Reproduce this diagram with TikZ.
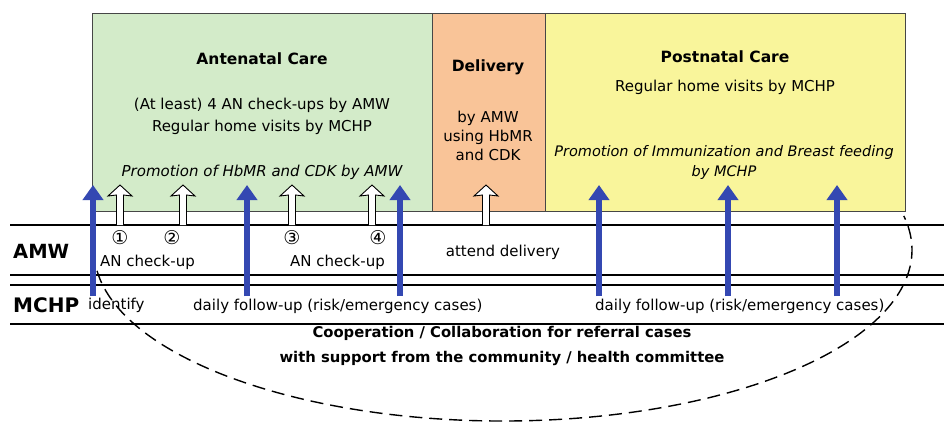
\documentclass[tikz,border=0pt]{standalone}
\usepackage{fontspec}
\setmainfont{DejaVu Sans}
\usetikzlibrary{arrows.meta}
\definecolor{ancgreen}{RGB}{211,235,201}
\definecolor{delorange}{RGB}{249,196,152}
\definecolor{pncyellow}{RGB}{249,245,155}
\definecolor{arrowblue}{RGB}{52,72,178}
\definecolor{boxline}{RGB}{70,70,70}
\tikzset{
  phasebox/.style={draw=boxline, line width=1.2pt, anchor=north west, inner sep=0pt, minimum height=198pt},
  txt/.style={inner sep=0pt, font=\fontsize{15}{18}\selectfont},
  ttl/.style={inner sep=0pt, font=\fontsize{15.5}{18}\selectfont\bfseries},
  itl/.style={inner sep=0pt, font=\fontsize{15}{18}\selectfont\itshape},
  lanelbl/.style={inner sep=0pt, anchor=west, font=\fontsize{19.5}{22}\selectfont\bfseries},
  circnum/.style={inner sep=0pt, font=\fontsize{19}{20}\selectfont},
  bottomtxt/.style={inner sep=0pt, font=\fontsize{14.8}{18}\selectfont\bfseries},
  laneline/.style={line width=2pt, black},
  bluearrow/.style={arrowblue, line width=6.5pt, -{Triangle[width=20pt,length=15pt]}},
  hollowup/.pic={
    \draw[black, line width=0.9pt, fill=white, line join=miter]
      (-3.5,0) -- (-3.5,-30) -- (-12,-29) -- (0,-40) -- (12,-29) -- (3.5,-30) -- (3.5,0);
  },
  refdash/.style={line width=1.4pt, dash pattern=on 13pt off 7pt}
}
\begin{document}
\begin{tikzpicture}[x=1pt,y=-1pt]
\useasboundingbox[fill=white] (0,0) rectangle (944,423);

% phase boxes
\node[phasebox, fill=ancgreen, minimum width=340pt] (anc) at (92,13) {};
\node[phasebox, fill=delorange, minimum width=113pt] (del) at (432,13) {};
\node[phasebox, fill=pncyellow, minimum width=360pt] (pnc) at (545,13) {};

% box texts
\node[ttl] (ancT) at (262,59) {Antenatal Care};
\node[txt] (ancA) at (262,105) {(At least) 4 AN check-ups by AMW};
\node[txt] (ancB) at (262,127) {Regular home visits by MCHP};
\node[itl] (ancC) at (262,172) {Promotion of HbMR and CDK by AMW};

\node[ttl] (delT) at (488,67) {Delivery};
\node[txt] (delA) at (488,118) {by AMW};
\node[txt] (delB) at (488,137) {using HbMR};
\node[txt] (delC) at (488,155) {and CDK};

\node[ttl] (pncT) at (725,57) {Postnatal Care};
\node[txt] (pncA) at (725,87) {Regular home visits by MCHP};
\node[itl, font=\fontsize{14.5}{18}\selectfont\itshape] (pncB) at (724,152) {Promotion of Immunization and Breast feeding};
\node[itl, font=\fontsize{14.5}{18}\selectfont\itshape] (pncC) at (724,172) {by MCHP};

% lane lines
\coordinate (l1w) at (10,225); \coordinate (l1e) at (944,225);
\coordinate (l2w) at (10,275); \coordinate (l2e) at (944,275);
\coordinate (l3w) at (10,285); \coordinate (l3e) at (944,285);
\coordinate (l4w) at (10,324); \coordinate (l4e) at (944,324);
\draw[laneline] (l1w) -- (l1e);
\draw[laneline] (l2w) -- (l2e);
\draw[laneline] (l3w) -- (l3e);
\draw[laneline] (l4w) -- (l4e);

% lane labels and texts
\node[lanelbl] (amw) at (13,251) {AMW};
\node[lanelbl, font=\fontsize{20}{22}\selectfont\bfseries] (mchp) at (13,305) {MCHP};

\node[circnum] (n1) at (120,238) {①};
\node[circnum] (n2) at (172,238) {②};
\node[circnum] (n3) at (292,238) {③};
\node[circnum] (n4) at (378,238) {④};

\node[txt, anchor=west] (anA) at (100,262) {AN check-up};
\node[txt, anchor=west] (anB) at (290,262) {AN check-up};
\node[txt] (att) at (503,252) {attend delivery};

\node[txt, anchor=west] (ident) at (88,305) {identify};
\node[txt, anchor=west] (dfA) at (193,306) {daily follow-up (risk/emergency cases)};
\node[txt, anchor=west] (dfB) at (595,306) {daily follow-up (risk/emergency cases)};

\node[bottomtxt] (coop) at (502,333) {Cooperation / Collaboration for referral cases};
\node[bottomtxt] (supp) at (502,358) {with support from the community / health committee};

% white (hollow) arrows: AMW check-ups and delivery
\coordinate (w1) at (120,225);
\coordinate (w2) at (183,225);
\coordinate (w3) at (292,225);
\coordinate (w4) at (372,225);
\coordinate (w5) at (486,225);
\pic at (w1) {hollowup};
\pic at (w2) {hollowup};
\pic at (w3) {hollowup};
\pic at (w4) {hollowup};
\pic at (w5) {hollowup};

% blue arrows: MCHP home visits
\foreach \i/\xx in {1/93, 2/247, 3/400, 4/599, 5/728, 6/837} {
  \coordinate (bs\i) at (\xx,296);
  \coordinate (be\i) at (\xx,185);
}
\foreach \i in {1,...,6} {
  \draw[bluearrow] (bs\i) -- (be\i);
}

% dashed cooperation ellipse
\coordinate (ellc) at (503,250);
\draw[refdash] ([shift={(187:409pt and 171pt)}]ellc) arc[start angle=187, end angle=371.5, x radius=409pt, y radius=171pt];
\end{tikzpicture}
\end{document}
